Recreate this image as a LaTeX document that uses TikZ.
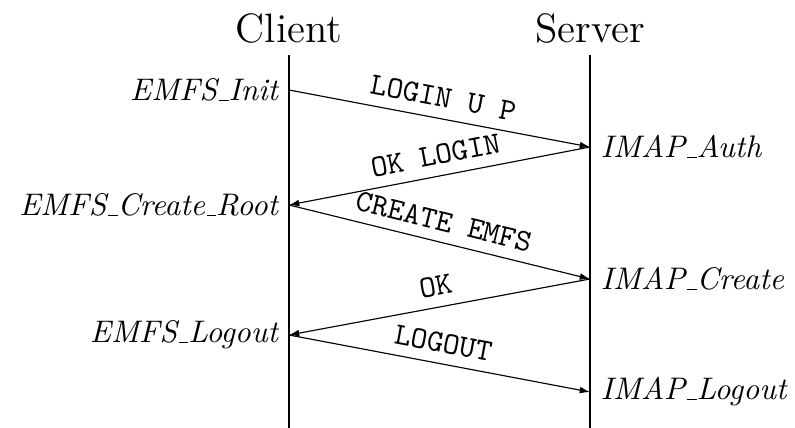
\documentclass[tikz,border=0pt,11pt]{standalone}
\usetikzlibrary{arrows.meta}
\newcommand\usc{\leavevmode\kern.06em\vbox{\hrule width.3em}}
\begin{document}
\begin{tikzpicture}[x=0.35088pt,y=-0.35088pt,
  head/.style={font=\Large},
  life/.style={thick},
  msg/.style={-{Latex[length=3.6pt,width=2.4pt]}},
  lbl/.style={font=\ttfamily,sloped,above},
  ev/.style={font=\itshape}]
\useasboundingbox (0,0) rectangle (795,428);
\node[head,anchor=base] (client) at (289,43) {Client};
\node[head,anchor=base] (server) at (590,43) {Server};
\coordinate (cb) at (289,428);
\coordinate (sb) at (590,428);
\draw[life] (client.south) -- (cb);
\draw[life] (server.south) -- (sb);
\coordinate (c1) at (289,90);
\coordinate (s1) at (590,147);
\coordinate (c2) at (289,205);
\coordinate (s2) at (590,279);
\coordinate (c3) at (289,335);
\coordinate (s3) at (590,392);
\node[ev,left] (l1) at (c1) {EMFS\usc Init};
\node[ev,left] (l2) at (c2) {EMFS\usc Create\usc Root};
\node[ev,left] (l3) at (c3) {EMFS\usc Logout};
\node[ev,right] (r1) at (s1) {IMAP\usc Auth};
\node[ev,right] (r2) at (s2) {IMAP\usc Create};
\node[ev,right] (r3) at (s3) {IMAP\usc Logout};
\draw[msg] (c1) -- node[lbl] (m1) {LOGIN U P} (s1);
\draw[msg] (s1) -- node[lbl] (m2) {OK LOGIN} (c2);
\draw[msg] (c2) -- node[lbl] (m3) {CREATE EMFS} (s2);
\draw[msg] (s2) -- node[lbl] (m4) {OK} (c3);
\draw[msg] (c3) -- node[lbl] (m5) {LOGOUT} (s3);
\end{tikzpicture}
\end{document}
